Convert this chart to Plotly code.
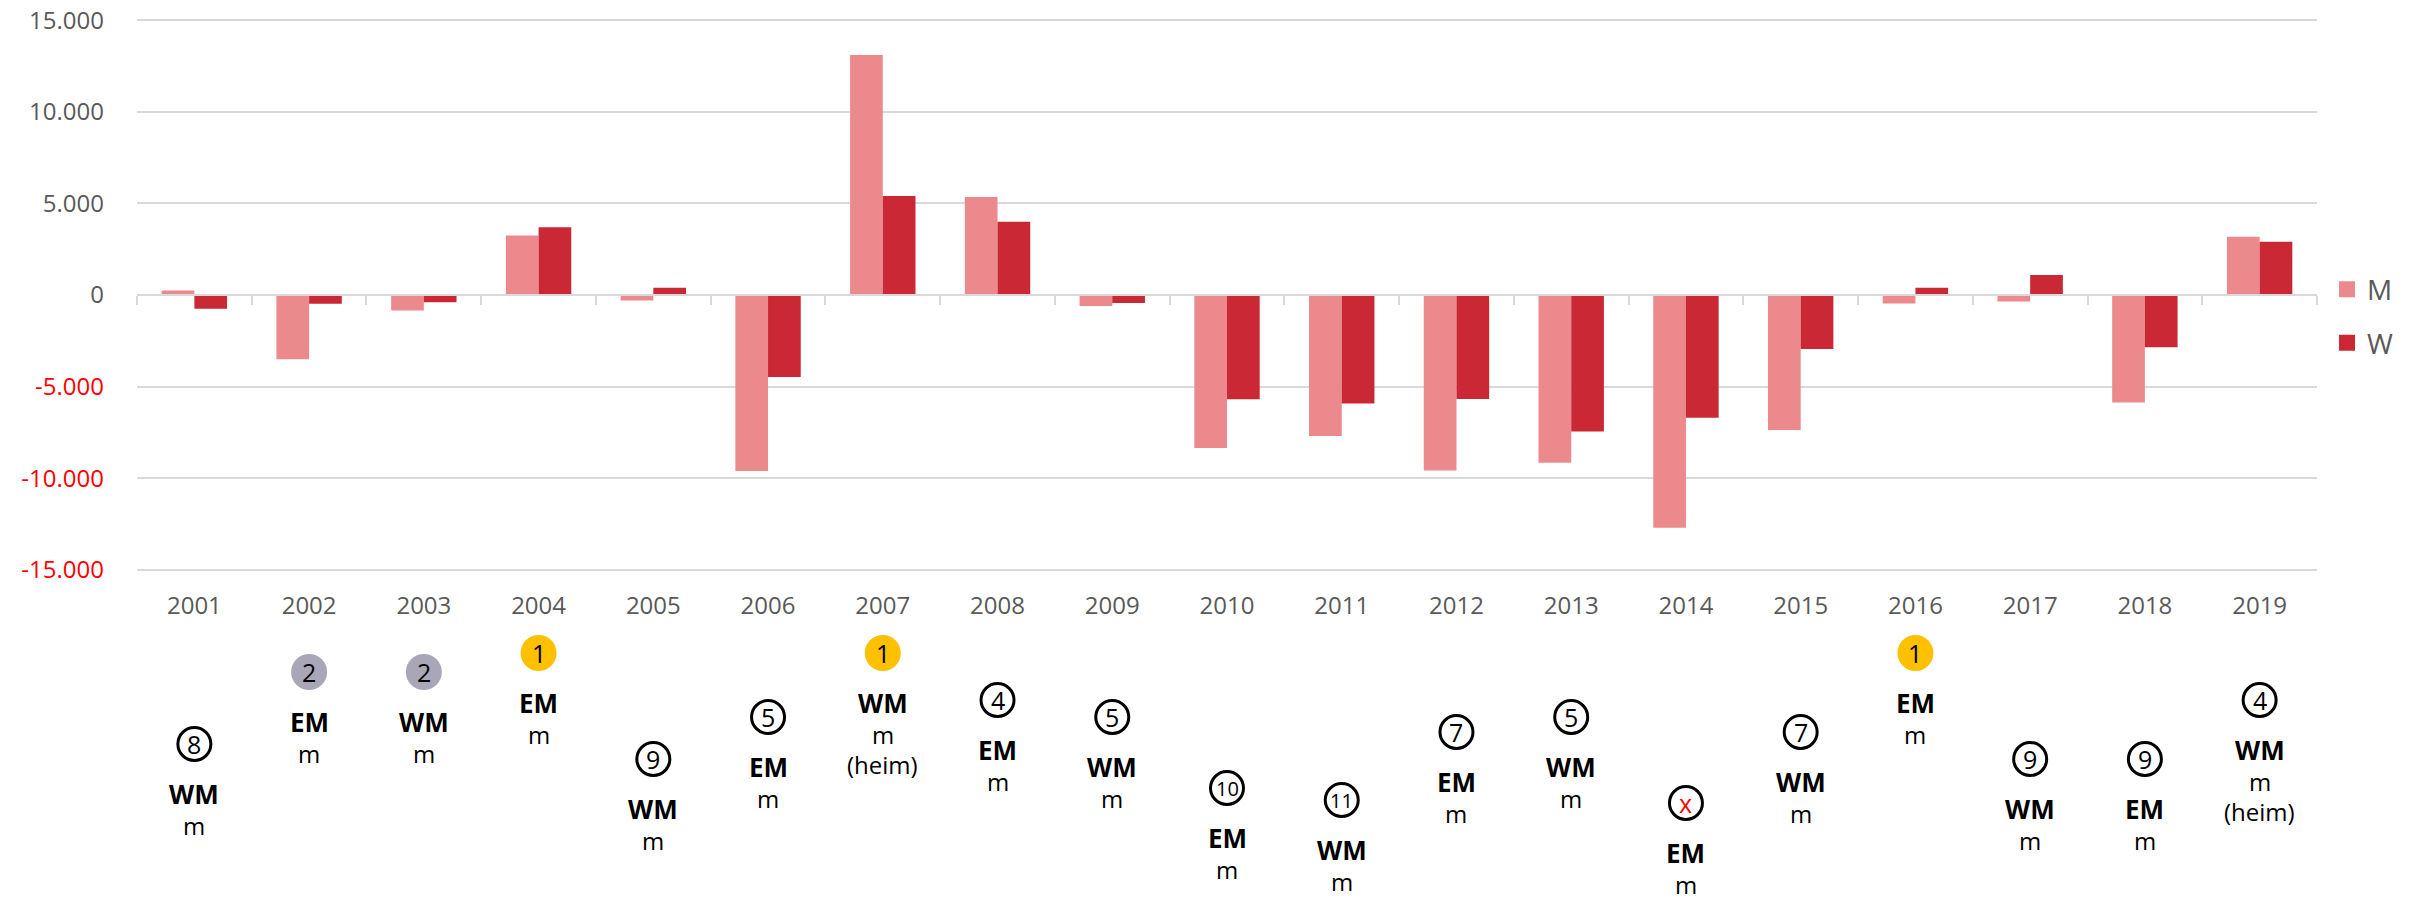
import plotly.graph_objects as go

# ---------------- data ----------------
years = [str(y) for y in range(2001, 2020)]
values_m = [250, -3500, -850, 3250, -300, -9600, 13100, 5350, -600, -8350,
            -7700, -9580, -9160, -12700, -7360, -460, -360, -5860, 3180]
values_w = [-750, -480, -400, 3700, 400, -4480, 5400, 4000, -440, -5690,
            -5920, -5670, -7450, -6700, -2950, 400, 1090, -2850, 2910]
events = ["WM", "EM", "WM", "EM", "WM", "EM", "WM", "EM", "WM", "EM",
          "WM", "EM", "WM", "EM", "WM", "EM", "WM", "EM", "WM"]
ranks = ["8", "2", "2", "1", "9", "5", "1", "4", "5", "10",
         "11", "7", "5", "x", "7", "1", "9", "9", "4"]
home = [False, False, False, False, False, False, True, False, False, False,
        False, False, False, False, False, False, False, False, True]
y_tickvals = [15000, 10000, 5000, 0, -5000, -10000, -15000]
y_ticktext = ["15.000", "10.000", "5.000", "0", "-5.000", "-10.000", "-15.000"]

# ---------------- styling / layout constants ----------------
W, H = 2415, 901
M_L, M_R, M_T, M_B = 137, 98, 19, 330
PLOT_BOTTOM = H - M_B
FONT = "Open Sans"
GREY_TXT = "#595959"
COL_M = "#EC898C"
COL_W = "#C92834"
GRID = "#D9D9D9"
# vertical pixel position (from top of page) of the rank badge, by rank
RANK_Y = {"1": 653, "2": 672, "4": 700, "5": 717, "7": 732, "8": 744,
          "9": 759, "10": 788, "11": 800, "x": 803}
BADGE_FILL = {"1": "#FFC000", "2": "#A9A6B7"}
R = 18

fig = go.Figure()
fig.add_trace(go.Bar(x=years, y=values_m, name="M", marker=dict(color=COL_M, line=dict(width=0)),
                     showlegend=False))
fig.add_trace(go.Bar(x=years, y=values_w, name="W", marker=dict(color=COL_W, line=dict(width=0)),
                     showlegend=False))
# legend entries with larger square swatches
for name, col in (("M", COL_M), ("W", COL_W)):
    fig.add_trace(go.Scatter(x=[None], y=[None], mode="markers", name=name, legendgroup=name,
                             marker=dict(symbol="square", size=16, color=col), hoverinfo="skip"))
# invisible helper trace for the axis line at zero (category tick marks)
fig.add_trace(go.Scatter(x=years, y=[0] * len(years), xaxis="x2", mode="markers",
                         marker=dict(opacity=0), showlegend=False, hoverinfo="skip"))

ticktext = [t if not t.startswith("-") else f'<span style="color:#FF0000">{t}</span>'
            for t in y_ticktext]

shapes = []
annotations = []
for i, (yr, ev, rk, hm) in enumerate(zip(years, events, ranks, home)):
    cy = RANK_Y[rk]
    off = cy - PLOT_BOTTOM
    if rk in BADGE_FILL:
        shapes.append(dict(type="circle", xref="x", yref="paper", xsizemode="pixel",
                           ysizemode="pixel", xanchor=i, yanchor=0,
                           x0=-R, x1=R, y0=-off - R, y1=-off + R,
                           fillcolor=BADGE_FILL[rk], line=dict(width=0), layer="above"))
    else:
        shapes.append(dict(type="circle", xref="x", yref="paper", xsizemode="pixel",
                           ysizemode="pixel", xanchor=i, yanchor=0,
                           x0=-R + 1.5, x1=R - 1.5, y0=-off - R + 1.5, y1=-off + R - 1.5,
                           fillcolor="white", line=dict(width=3, color="black"), layer="above"))
    num_col = "#FF0000" if rk == "x" else "black"
    num_size = 20 if len(rk) > 1 else 25
    annotations.append(dict(x=i, xref="x", y=0, yref="paper", yshift=-off,
                            text=rk, showarrow=False, yanchor="middle", xanchor="center",
                            font=dict(family=FONT, size=num_size, color=num_col)))
    lines = [(f"<b>{ev}</b>", 50, 26), ("m", 81, 24)]
    if hm:
        lines.append(("(heim)", 111, 24))
    for txt, dy, fs in lines:
        annotations.append(dict(x=i, xref="x", y=0, yref="paper", yshift=-(off + dy),
                                text=txt, showarrow=False, yanchor="middle", xanchor="center",
                                font=dict(family=FONT, size=fs, color="black")))

fig.update_layout(
    width=W, height=H, autosize=False,
    margin=dict(l=M_L, r=M_R, t=M_T, b=M_B, pad=0, autoexpand=False),
    paper_bgcolor="white", plot_bgcolor="white",
    font=dict(family=FONT, color=GREY_TXT),
    barmode="group", bargap=0.43, bargroupgap=0,
    showlegend=True,
    legend=dict(x=1.0046, xanchor="left", y=0.555, yanchor="top",
                font=dict(family=FONT, size=28, color=GREY_TXT), itemsizing="trace",
                traceorder="grouped", tracegroupgap=14, bgcolor="rgba(0,0,0,0)"),
    xaxis=dict(type="category", categoryorder="array", categoryarray=years,
               range=[-0.5, len(years) - 0.5], automargin=False,
               showgrid=False, showline=False, zeroline=False, ticks="",
               tickfont=dict(family=FONT, size=24, color=GREY_TXT), ticklabelstandoff=18),
    xaxis2=dict(type="category", categoryorder="array", categoryarray=years,
                range=[-0.5, len(years) - 0.5], overlaying="x", anchor="free", position=0.5,
                showgrid=False, showline=True, linecolor=GRID, linewidth=2, automargin=False,
                ticks="outside", tickson="boundaries", ticklen=9, tickwidth=2, tickcolor=GRID,
                showticklabels=False, zeroline=False),
    yaxis=dict(range=[-15060, 15060], tickvals=y_tickvals, ticktext=ticktext, automargin=False,
               showgrid=True, gridcolor=GRID, gridwidth=2, zeroline=False, showline=False,
               ticks="", tickfont=dict(family=FONT, size=24, color=GREY_TXT),
               ticklabelstandoff=32),
    shapes=shapes,
    annotations=annotations,
)

fig.write_html("out.html", config={"displayModeBar": False},
               post_script="document.body.style.margin='0';")
